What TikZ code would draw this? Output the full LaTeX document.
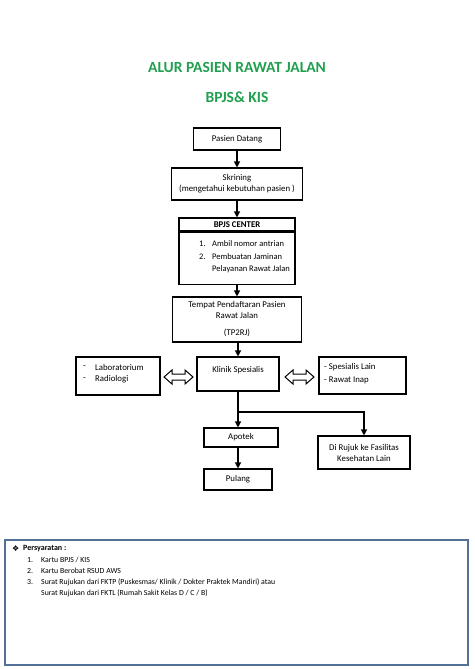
\documentclass[tikz,border=0pt]{standalone}
\usepackage{fontspec}
\setmainfont{Carlito}
\newfontfamily\symfont{DejaVu Sans}
\usetikzlibrary{arrows.meta}
\definecolor{titlegreen}{RGB}{33,160,80}
\definecolor{reqblue}{RGB}{84,112,150}
\begin{document}
\begin{tikzpicture}[x=1pt,y=-1pt,
  box/.style={draw,line width=1.1pt,inner sep=0pt,align=center,
    font=\fontsize{8.8}{11}\selectfont},
  txt/.style={inner sep=0pt,font=\fontsize{8.8}{11}\selectfont},
  ltxt/.style={inner sep=0pt,anchor=west,font=\fontsize{8.5}{11}\selectfont},
  req/.style={inner sep=0pt,anchor=west,font=\fontsize{7.8}{9}\selectfont},
  flow/.style={line width=1.2pt,-{Triangle[length=6pt,width=6pt]}},
  dbl/.style={draw,line width=1pt,fill=white,line join=miter},
  title/.style={inner sep=0pt,text=titlegreen,font=\fontsize{15.5}{18}\selectfont\bfseries}]
\useasboundingbox (0,0) rectangle (474,669);
\fill[white] (0,0) rectangle (474,669);

% titles
\node[title] (t1) at (237,67) {ALUR PASIEN RAWAT JALAN};
\node[title] (t2) at (237,97) {BPJS\& KIS};

% main column
\node[box,minimum width=87pt,minimum height=22pt] (datang) at (237,139) {Pasien Datang};
\node[box,minimum width=131pt,minimum height=32pt] (skrining) at (237,184)
  {Skrining\\(mengetahui kebutuhan pasien )};
\node[box,minimum width=116pt,minimum height=13pt,font=\fontsize{8.8}{11}\selectfont\bfseries] (bpjsh) at (237,224.5) {BPJS CENTER};
\node[box,minimum width=116pt,minimum height=52pt,anchor=north] (bpjsb) at (bpjsh.south) {};
\node[ltxt] (n1) at (199,244) {1.};
\node[ltxt] (l1) at (212,244) {Ambil nomor antrian};
\node[ltxt] (n2) at (199,257) {2.};
\node[ltxt] (l2) at (212,257) {Pembuatan Jaminan};
\node[ltxt] (l3) at (212,269) {Pelayanan Rawat Jalan};

\node[box,minimum width=129pt,minimum height=45pt] (tp) at (237,319.5)
  {Tempat Pendaftaran Pasien\\Rawat Jalan\\[6pt](TP2RJ)};

\node[box,minimum width=82pt,minimum height=34pt] (klinik) at (238,374) {};
\node[txt] (klinikt) at (238,370) {Klinik Spesialis};

% side boxes
\node[box,minimum width=84pt,minimum height=38pt] (lab) at (118,376) {};
\node[txt,anchor=west] (d1) at (83,367) {-};
\node[txt,anchor=west] (lab1) at (95,367) {Laboratorium};
\node[txt,anchor=west] (d2) at (83,379) {-};
\node[txt,anchor=west] (lab2) at (95,379) {Radiologi};

\node[box,minimum width=87pt,minimum height=37pt] (spes) at (362.5,375.5) {};
\node[txt,anchor=west] (sp1) at (324,367) {- Spesialis Lain};
\node[txt,anchor=west] (sp2) at (324,380) {- Rawat Inap};

% double arrows
\draw[dbl] (164,377) -- (172,370) -- (172,374) -- (185,374) -- (185,370) -- (193,377)
  -- (185,384) -- (185,380) -- (172,380) -- (172,384) -- cycle;
\draw[dbl] (285,377) -- (293,370) -- (293,374) -- (306,374) -- (306,370) -- (314,377)
  -- (306,384) -- (306,380) -- (293,380) -- (293,384) -- cycle;

% lower boxes
\node[box,minimum width=74pt,minimum height=19pt] (apotek) at (241,437.5) {Apotek};
\node[box,minimum width=68pt,minimum height=21pt] (pulang) at (238,479.5) {Pulang};
\node[box,minimum width=92pt,minimum height=33pt] (rujuk) at (364,452.5)
  {Di Rujuk ke Fasilitas\\Kesehatan Lain};

% connectors
\draw[flow] (datang) -- (skrining);
\draw[flow] (skrining) -- (bpjsh);
\draw[flow] (bpjsb) -- (tp);
\draw[flow] (tp.south -| klinik.north) -- (klinik.north);
\coordinate (br) at (238,412);
\draw[flow] (klinik.south) -- (klinik.south |- apotek.north);
\draw[flow] (br) -| (rujuk.north);
\draw[flow] (apotek.south -| klinik.south) -- (klinik.south |- pulang.north);

% requirements box
\node[draw=reqblue,line width=1.6pt,minimum width=463pt,minimum height=125pt,inner sep=0pt] (reqbox) at (236.5,602.5) {};
\node[inner sep=0pt,anchor=west,font=\symfont\fontsize{8}{9}\selectfont] (bul) at (12,549) {❖};
\node[req,font=\fontsize{8}{9}\selectfont\bfseries] (rh) at (23,549) {Persyaratan :};
\node[req] (r1n) at (27,560) {1.};
\node[req] (r1) at (41,560) {Kartu BPJS / KIS};
\node[req] (r2n) at (27,571) {2.};
\node[req] (r2) at (41,571) {Kartu Berobat RSUD AWS};
\node[req] (r3n) at (27,582) {3.};
\node[req] (r3) at (41,582) {Surat Rujukan dari FKTP (Puskesmas/ Klinik / Dokter Praktek Mandiri) atau};
\node[req] (r4) at (41,593) {Surat Rujukan dari FKTL (Rumah Sakit Kelas D / C / B)};
\end{tikzpicture}
\end{document}
